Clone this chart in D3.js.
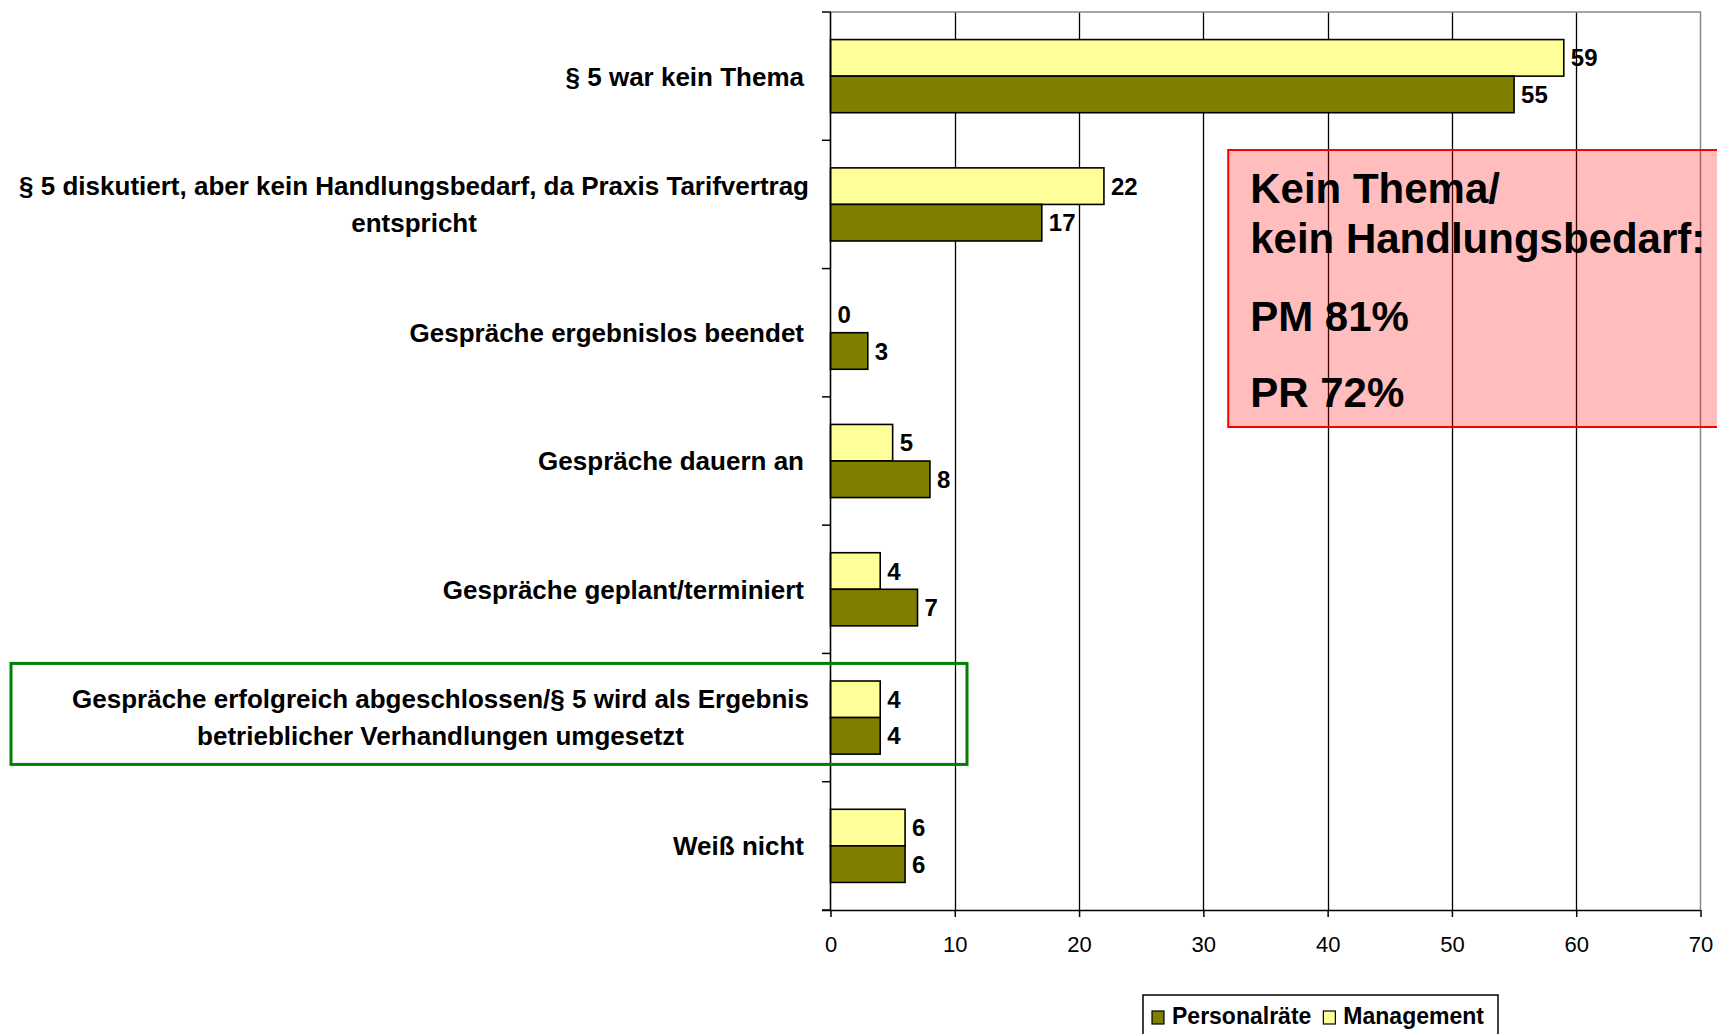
<!DOCTYPE html>
<html>
<head>
    <meta charset='utf-8'>
</head>
<style>
    body { margin: 0; background: #fff; }
    text { font-family: 'Liberation Sans', Arial, sans-serif; }
    .cat { font-weight: bold; font-size: 26px; }
    .val { font-weight: bold; font-size: 24px; }
</style>
<body>
    <div id='chart'></div>
    <script src="https://d3js.org/d3.v7.min.js"></script>
    <script>
        var categories = [
            '§ 5 war kein Thema',
            '§ 5 diskutiert, aber kein Handlungsbedarf, da Praxis Tarifvertrag\nentspricht',
            'Gespräche ergebnislos beendet',
            'Gespräche dauern an',
            'Gespräche geplant/terminiert',
            'Gespräche erfolgreich abgeschlossen/§ 5 wird als Ergebnis\nbetrieblicher Verhandlungen umgesetzt',
            'Weiß nicht'
        ];
        var series = ['Management', 'Personalräte'];
        var management = [59, 22, 0, 5, 4, 4, 6];
        var personalraete = [55, 17, 3, 8, 7, 4, 6];
        var legendOrder = ['Personalräte', 'Management'];
        var boxLines = ['Kein Thema/', 'kein Handlungsbedarf:', 'PM 81%', 'PR 72%'];

        var colors = { 'Management': '#ffff99', 'Personalräte': '#808000' };
        var values = { 'Management': management, 'Personalräte': personalraete };

        var width = 1717, height = 1034;
        var plotTop = 12, plotBottom = 910, plotLeft = 830.5, plotRight = 1700.5;

        var svg = d3.select('#chart').append('svg')
            .attr('width', width)
            .attr('height', height);

        var x = d3.scaleLinear().domain([0, 70]).range([plotLeft, plotRight]);
        var y = d3.scaleBand().domain(categories).range([plotTop, plotBottom])
            .paddingInner(0.43).paddingOuter(0.215);
        var sub = d3.scaleBand().domain(series).range([0, y.bandwidth()]);

        // gridlines
        svg.selectAll('.grid').data(x.ticks(7).filter(function(d) { return d > 0 && d < 70; }))
            .enter().append('line')
            .attr('x1', function(d) { return Math.round(x(d)) + 0.5; })
            .attr('x2', function(d) { return Math.round(x(d)) + 0.5; })
            .attr('y1', plotTop).attr('y2', plotBottom)
            .attr('stroke', '#000').attr('stroke-width', 1.3);

        // plot border (top/right gray)
        svg.append('path')
            .attr('d', 'M' + plotLeft + ',' + plotTop + 'H' + plotRight + 'V' + plotBottom)
            .attr('fill', 'none').attr('stroke', '#888').attr('stroke-width', 1.5);

        // bars
        var rows = categories.map(function(c, i) {
            return series.map(function(s) { return { cat: c, s: s, v: values[s][i] }; });
        });
        var g = svg.selectAll('.row').data(rows).enter().append('g')
            .attr('transform', function(d) { return 'translate(0,' + y(d[0].cat) + ')'; });

        g.selectAll('rect').data(function(d) { return d; })
            .enter().append('rect')
            .attr('x', x(0))
            .attr('y', function(d) { return sub(d.s); })
            .attr('width', function(d) { return x(d.v) - x(0); })
            .attr('height', sub.bandwidth())
            .attr('fill', function(d) { return colors[d.s]; })
            .attr('stroke', function(d) { return d.v > 0 ? '#000' : 'none'; })
            .attr('stroke-width', 1.6);

        g.selectAll('.val').data(function(d) { return d; })
            .enter().append('text')
            .attr('class', 'val')
            .attr('x', function(d) { return x(d.v) + 7; })
            .attr('y', function(d) { return sub(d.s) + sub.bandwidth() / 2; })
            .attr('dy', '0.36em')
            .text(function(d) { return d.v; });

        // x axis
        var xAxis = svg.append('g')
            .attr('transform', 'translate(0,' + plotBottom + ')')
            .call(d3.axisBottom(x).ticks(7).tickSize(7).tickSizeOuter(0).tickPadding(19));
        xAxis.select('.domain').attr('d', 'M822,0.5H' + plotRight).attr('stroke-width', 1.6);
        xAxis.selectAll('.tick line').attr('stroke-width', 1.5);
        xAxis.selectAll('.tick text')
            .attr('font-family', 'Liberation Sans, Arial, sans-serif')
            .attr('font-size', 22)
            .attr('fill', '#000');

        // y axis
        svg.append('line').attr('x1', plotLeft).attr('x2', plotLeft).attr('y1', plotTop).attr('y2', plotBottom)
            .attr('stroke', '#000').attr('stroke-width', 1.6);
        svg.selectAll('.ytick').data(d3.range(categories.length + 1))
            .enter().append('line')
            .attr('x1', 822).attr('x2', plotLeft)
            .attr('y1', function(i) { return plotTop + i * y.step(); })
            .attr('y2', function(i) { return plotTop + i * y.step(); })
            .attr('stroke', '#000').attr('stroke-width', 1.5);

        // category labels (multi-line ones centred on their longest line)
        categories.forEach(function(c) {
            var lines = c.split('\n');
            var labelRight = lines.length > 1 ? 809 : 804;
            var cy = y(c) + y.bandwidth() / 2;
            var t = svg.append('text').attr('class', 'cat');
            lines.forEach(function(l, k) {
                t.append('tspan').text(l)
                    .attr('y', cy + (k - (lines.length - 1) / 2) * 37)
                    .attr('dy', '0.36em');
            });
            var maxW = 0;
            t.selectAll('tspan').each(function() { maxW = Math.max(maxW, this.getComputedTextLength()); });
            t.attr('text-anchor', 'middle');
            t.selectAll('tspan').attr('x', labelRight - maxW / 2);
        });

        // green highlight box
        var gy = plotTop + 5 * y.step();
        svg.append('rect')
            .attr('x', 11).attr('y', gy + 10)
            .attr('width', 956).attr('height', 101)
            .attr('fill', 'none').attr('stroke', '#008000').attr('stroke-width', 3);

        // red annotation box
        var rb = svg.append('g');
        rb.append('rect')
            .attr('x', x(32)).attr('y', 150)
            .attr('width', 600).attr('height', 277)
            .attr('fill', 'rgba(255,0,0,0.26)').attr('stroke', '#ff0000').attr('stroke-width', 2);
        var boxY = [203, 253, 331, 407];
        boxLines.forEach(function(l, i) {
            rb.append('text')
                .attr('x', x(32) + 22).attr('y', boxY[i])
                .attr('font-size', 42).attr('font-weight', 'bold')
                .text(l);
        });

        // legend
        var lg = svg.append('g').attr('transform', 'translate(1143,995)');
        lg.append('rect').attr('x', 0).attr('y', 0).attr('width', 355).attr('height', 60)
            .attr('fill', '#fff').attr('stroke', '#000').attr('stroke-width', 1.5);
        var lx = 9;
        legendOrder.forEach(function(s) {
            lg.append('rect').attr('x', lx).attr('y', 16).attr('width', 12).attr('height', 13)
                .attr('fill', colors[s]).attr('stroke', '#000').attr('stroke-width', 1.2);
            var t = lg.append('text').attr('x', lx + 20).attr('y', 29)
                .attr('font-size', 23).attr('font-weight', 'bold').text(s);
            lx += 20 + t.node().getComputedTextLength() + 12;
        });
    </script>
</body>
</html>
